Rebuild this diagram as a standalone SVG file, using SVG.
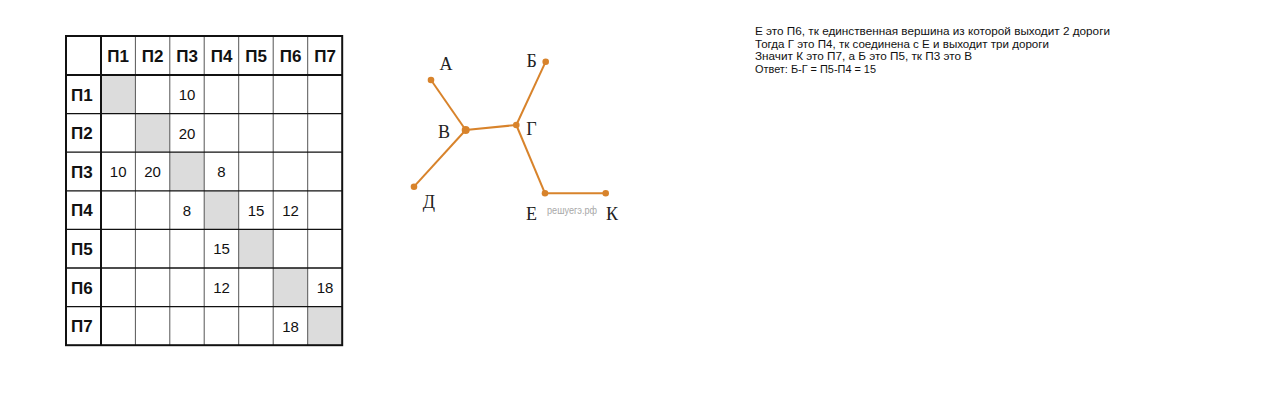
<svg xmlns="http://www.w3.org/2000/svg" width="1280" height="417" viewBox="0 0 1280 417">
<style>
.hd{font-family:"Liberation Sans","DejaVu Sans",sans-serif;font-weight:bold;font-size:17px;fill:#111}
.num{font-family:"Liberation Sans","DejaVu Sans",sans-serif;font-size:15px;fill:#111;text-anchor:middle}
.gr{fill:#dcdcdc}
.vl{stroke:#555;stroke-width:1}
.hl{stroke:#111;stroke-width:1.3}
.thick{stroke:#111;stroke-width:2}
.edge{stroke:#d8832b;stroke-width:2;fill:none}
.dot{fill:#d8832b}
.lbl{font-family:"Liberation Serif","DejaVu Serif",serif;font-size:18px;fill:#222;text-anchor:middle}
.wm{font-family:"Liberation Sans","DejaVu Sans",sans-serif;font-size:10.5px;fill:#a8a8a8}
.note{font-family:"Liberation Sans","DejaVu Sans",sans-serif;font-size:11px;fill:#111}
</style>
<rect width="1280" height="417" fill="#fff"/>
<g id="table">
  <rect class="gr" x="101" y="75" width="34.4" height="38.6"/>
  <rect class="gr" x="135.4" y="113.6" width="34.4" height="38.6"/>
  <rect class="gr" x="169.8" y="152.2" width="34.4" height="38.6"/>
  <rect class="gr" x="204.2" y="190.8" width="34.5" height="38.6"/>
  <rect class="gr" x="238.7" y="229.4" width="34.5" height="38.6"/>
  <rect class="gr" x="273.2" y="268" width="34.5" height="38.6"/>
  <rect class="gr" x="307.7" y="306.6" width="34.5" height="38.6"/>
  <g>
    <line class="vl" x1="135.4" y1="36" x2="135.4" y2="345.2"/>
    <line class="vl" x1="169.8" y1="36" x2="169.8" y2="345.2"/>
    <line class="vl" x1="204.2" y1="36" x2="204.2" y2="345.2"/>
    <line class="vl" x1="238.7" y1="36" x2="238.7" y2="345.2"/>
    <line class="vl" x1="273.2" y1="36" x2="273.2" y2="345.2"/>
    <line class="vl" x1="307.7" y1="36" x2="307.7" y2="345.2"/>
    <line class="thick" x1="101" y1="36" x2="101" y2="345.2"/>
    <line class="hl" x1="66" y1="113.6" x2="342.2" y2="113.6"/>
    <line class="hl" x1="66" y1="152.2" x2="342.2" y2="152.2"/>
    <line class="hl" x1="66" y1="190.8" x2="342.2" y2="190.8"/>
    <line class="hl" x1="66" y1="229.4" x2="342.2" y2="229.4"/>
    <line class="hl" x1="66" y1="268" x2="342.2" y2="268"/>
    <line class="hl" x1="66" y1="306.6" x2="342.2" y2="306.6"/>
    <line class="thick" x1="66" y1="75" x2="342.2" y2="75"/>
    <rect x="66" y="36" width="276.2" height="309.2" fill="none" stroke="#111" stroke-width="2"/>
  </g>
  <g class="hd" text-anchor="middle">
    <text x="118.2" y="62">П1</text>
    <text x="152.6" y="62">П2</text>
    <text x="187" y="62">П3</text>
    <text x="221.5" y="62">П4</text>
    <text x="256" y="62">П5</text>
    <text x="290.5" y="62">П6</text>
    <text x="325" y="62">П7</text>
  </g>
  <g class="hd">
    <text x="71" y="100.5">П1</text>
    <text x="71" y="139.1">П2</text>
    <text x="71" y="177.7">П3</text>
    <text x="71" y="216.3">П4</text>
    <text x="71" y="254.9">П5</text>
    <text x="71" y="293.5">П6</text>
    <text x="71" y="332.1">П7</text>
  </g>
  <g class="num">
    <text x="187" y="100">10</text>
    <text x="187" y="138.6">20</text>
    <text x="118.2" y="177.2">10</text>
    <text x="152.6" y="177.2">20</text>
    <text x="221.5" y="177.2">8</text>
    <text x="187" y="215.8">8</text>
    <text x="256" y="215.8">15</text>
    <text x="290.5" y="215.8">12</text>
    <text x="221.5" y="254.4">15</text>
    <text x="221.5" y="293">12</text>
    <text x="325" y="293">18</text>
    <text x="290.5" y="331.6">18</text>
  </g>
</g>
<g id="connectors">
  <line class="edge" x1="431" y1="80" x2="465.7" y2="130"/>
  <line class="edge" x1="414" y1="186.7" x2="465.7" y2="130"/>
  <line class="edge" x1="465.7" y1="130" x2="516.3" y2="125"/>
  <line class="edge" x1="545.7" y1="61.7" x2="516.3" y2="125"/>
  <line class="edge" x1="516.3" y1="125" x2="545" y2="193.3"/>
  <line class="edge" x1="545" y1="193.3" x2="605.7" y2="193.3"/>
</g>
<g id="node-A"><circle class="dot" cx="431" cy="80" r="3.3"/><text class="lbl" x="446" y="70">А</text></g>
<g id="node-B"><circle class="dot" cx="545.7" cy="61.7" r="3.3"/><text class="lbl" x="531.7" y="66.5">Б</text></g>
<g id="node-V"><circle class="dot" cx="465.7" cy="130" r="4"/><text class="lbl" x="444" y="138">В</text></g>
<g id="node-G"><circle class="dot" cx="516.3" cy="125" r="3.3"/><text class="lbl" x="531.5" y="135">Г</text></g>
<g id="node-D"><circle class="dot" cx="414" cy="186.7" r="3.3"/><text class="lbl" x="429" y="208">Д</text></g>
<g id="node-E"><circle class="dot" cx="545" cy="193.3" r="3.3"/><text class="lbl" x="531.5" y="220">Е</text></g>
<g id="node-K"><circle class="dot" cx="605.7" cy="193.3" r="3.3"/><text class="lbl" x="612" y="220">К</text></g>
<text class="wm" x="547" y="214" textLength="50" lengthAdjust="spacingAndGlyphs">решуегэ.рф</text>
<g id="notes" class="note">
  <text x="755" y="35" textLength="355" lengthAdjust="spacingAndGlyphs">Е это П6, тк единственная вершина из которой выходит 2 дороги</text>
  <text x="755" y="47.5" textLength="294" lengthAdjust="spacingAndGlyphs">Тогда Г это П4, тк соединена с Е и выходит три дороги</text>
  <text x="755" y="60" textLength="217" lengthAdjust="spacingAndGlyphs">Значит К это П7, а Б это П5, тк П3 это В</text>
  <text x="755" y="72.5" textLength="121" lengthAdjust="spacingAndGlyphs">Ответ: Б-Г = П5-П4 = 15</text>
</g>
</svg>
